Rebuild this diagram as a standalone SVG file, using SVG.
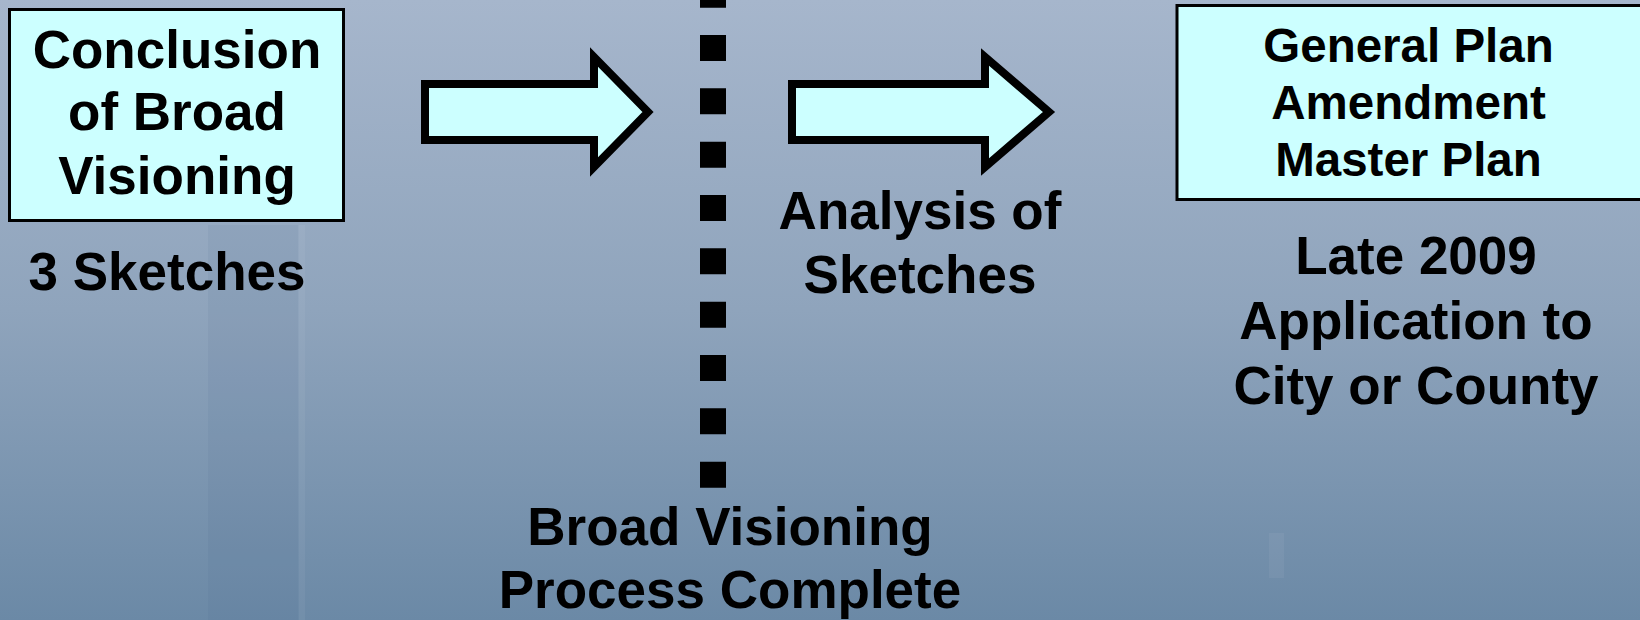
<svg xmlns="http://www.w3.org/2000/svg" width="1640" height="620" viewBox="0 0 1640 620">
  <defs>
    <linearGradient id="bg" x1="0" y1="0" x2="0" y2="1">
      <stop offset="0" stop-color="#A6B6CC"/>
      <stop offset="0.5" stop-color="#8FA4BC"/>
      <stop offset="1" stop-color="#6B89A6"/>
    </linearGradient>
    <style>
      .box { fill: #CCFFFF; stroke: #000000; stroke-width: 3; }
      .arrow { fill: #CCFFFF; stroke: #000000; stroke-width: 8; stroke-linejoin: miter; stroke-miterlimit: 10; }
      .t { font-family: "Liberation Sans", Arial, sans-serif; font-weight: bold; fill: #000000; text-anchor: middle; }
      .big { font-size: 53px; }
      .mid { font-size: 47.5px; }
    </style>
  </defs>
  <rect x="0" y="0" width="1640" height="620" fill="url(#bg)"/>
  <g id="background-shapes">
    <rect x="208" y="225" width="90" height="395" fill="#3A5A7A" opacity="0.07"/>
    <rect x="299" y="225" width="6" height="395" fill="#FFFFFF" opacity="0.05"/>
    <rect x="1269" y="533" width="15" height="45" fill="#FFFFFF" opacity="0.05"/>
  </g>

  <g id="connectors">
    <polygon class="arrow" points="425,84 594,84 594,57 648,112 594,167 594,140 425,140"/>
    <polygon class="arrow" points="792,84 985,84 985,57 1049,112 985,167 985,140 792,140"/>
    <line x1="713" y1="-18.3" x2="713" y2="488" stroke="#000000" stroke-width="26" stroke-dasharray="26 27.33"/>
  </g>

  <g id="node-conclusion">
    <rect class="box" x="9.5" y="9.5" width="334" height="211"/>
    <text class="t big" x="177" y="68">Conclusion</text>
    <text class="t big" x="177" y="130">of Broad</text>
    <text class="t big" x="177" y="194">Visioning</text>
  </g>

  <g id="label-sketches">
    <text class="t big" x="167" y="290">3 Sketches</text>
  </g>

  <g id="label-analysis">
    <text class="t big" x="920" y="229">Analysis of</text>
    <text class="t big" x="920" y="293">Sketches</text>
  </g>

  <g id="label-broad-complete">
    <text class="t big" x="730" y="545">Broad Visioning</text>
    <text class="t big" x="730" y="608">Process Complete</text>
  </g>

  <g id="node-general-plan">
    <rect class="box" x="1177" y="5.5" width="470" height="194"/>
    <text class="t mid" x="1408.5" y="62">General Plan</text>
    <text class="t mid" x="1408.5" y="119">Amendment</text>
    <text class="t mid" x="1408.5" y="176">Master Plan</text>
  </g>

  <g id="label-late-2009">
    <text class="t big" x="1416" y="274">Late 2009</text>
    <text class="t big" x="1416" y="339">Application to</text>
    <text class="t big" x="1416" y="404">City or County</text>
  </g>
</svg>
